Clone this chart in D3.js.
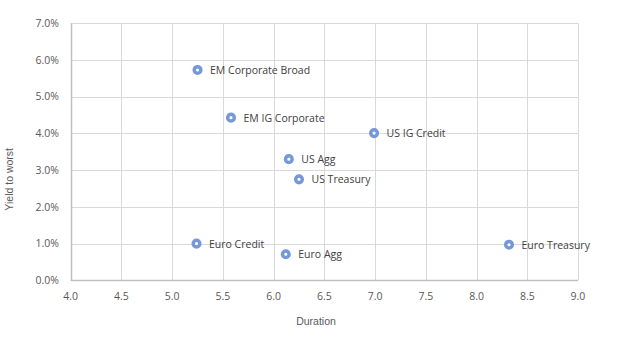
<!DOCTYPE html>
<html><head><meta charset="utf-8">
<script src="https://cdn.jsdelivr.net/npm/d3@7"></script>
<style>body{margin:0;background:#fff}</style>
</head><body>
<svg id="c" width="620" height="340"></svg>
<script>
const names = ["EM Corporate Broad","EM IG Corporate","US IG Credit","US Agg","US Treasury","Euro Credit","Euro Agg","Euro Treasury"];
const durations = [5.25, 5.58, 6.99, 6.15, 6.25, 5.24, 6.12, 8.32];
const yields = [5.73, 4.43, 4.01, 3.30, 2.75, 1.00, 0.71, 0.97];
const xTicks = [4.0,4.5,5.0,5.5,6.0,6.5,7.0,7.5,8.0,8.5,9.0];
const yTicks = [0,1,2,3,4,5,6,7];

const svg = d3.select("#c");
const x = d3.scaleLinear().domain([4,9]).range([70.7,578]);
const y = d3.scaleLinear().domain([0,7]).range([280.3,23.3]);
const tickFont = "'Open Sans', sans-serif";
const g = svg.append("g");

g.selectAll(".vg").data(xTicks).join("line")
  .attr("x1",d=>Math.round(x(d))+0.5).attr("x2",d=>Math.round(x(d))+0.5)
  .attr("y1",y(7)).attr("y2",y(0)).attr("stroke","#d9d9d9");
g.selectAll(".hg").data(yTicks).join("line")
  .attr("y1",d=>Math.round(y(d))+0.5).attr("y2",d=>Math.round(y(d))+0.5)
  .attr("x1",x(4)).attr("x2",x(9)).attr("stroke","#d9d9d9");
// axes
g.append("line").attr("x1",x(4)).attr("x2",x(9)).attr("y1",Math.round(y(0))+0.5).attr("y2",Math.round(y(0))+0.5).attr("stroke","#bfbfbf").attr("stroke-width",1.5);
g.append("line").attr("x1",Math.round(x(4))+0.5).attr("x2",Math.round(x(4))+0.5).attr("y1",y(7)).attr("y2",y(0)).attr("stroke","#bfbfbf").attr("stroke-width",1.5);

g.selectAll(".xt").data(xTicks).join("text")
  .attr("x",d=>x(d)).attr("y",300).attr("text-anchor","middle")
  .attr("font-family",tickFont).attr("font-size","10.5px").attr("fill","#595959")
  .text(d=>d3.format(".1f")(d));
g.selectAll(".yt").data(yTicks).join("text")
  .attr("x",59).attr("y",d=>y(d)).attr("dy","0.35em").attr("text-anchor","end")
  .attr("font-family",tickFont).attr("font-size","10.5px").attr("fill","#595959")
  .text(d=>d3.format(".1f")(d)+"%");

svg.append("text").attr("x",316).attr("y",325).attr("text-anchor","middle")
  .attr("font-family","'Liberation Sans', Arial, sans-serif").attr("font-size","10.5px").attr("fill","#595959").text("Duration");
svg.append("text").attr("transform","translate(13,"+y(2.75)+") rotate(-90)").attr("text-anchor","middle")
  .attr("font-family","'Liberation Sans', Arial, sans-serif").attr("font-size","10.5px").attr("fill","#595959").text("Yield to worst");

const data = names.map((n,i)=>({n, d:durations[i], v:yields[i]}));
const pts = svg.append("g");
pts.selectAll("circle").data(data).join("circle")
  .attr("cx",d=>x(d.d)).attr("cy",d=>y(d.v)).attr("r",3.3)
  .attr("fill","#fff").attr("stroke","#7698d9").attr("stroke-width",3.5);
pts.selectAll("text").data(data).join("text")
  .attr("x",d=>x(d.d)+12.5).attr("y",d=>y(d.v)).attr("dy","0.38em")
  .attr("font-family",tickFont).attr("font-size","10.5px").attr("fill","#404040")
  .text(d=>d.n);
</script>
</body></html>
